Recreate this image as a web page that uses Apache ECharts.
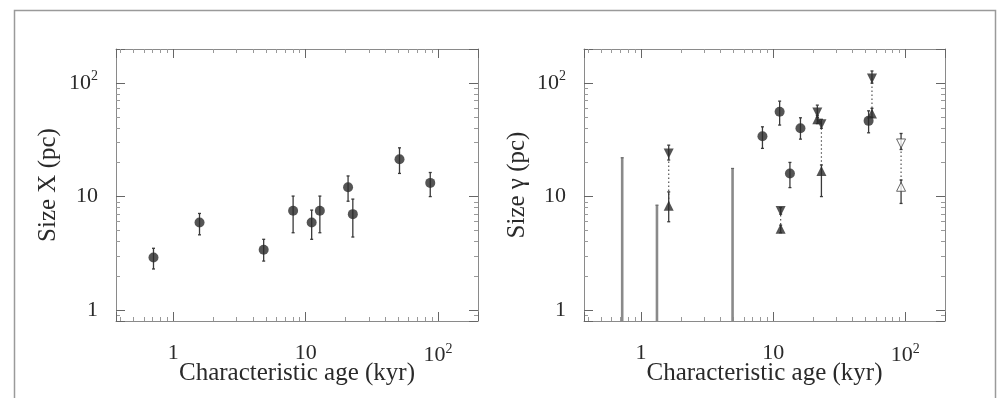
<!DOCTYPE html>
<html>
<head>
<meta charset="utf-8">
<script src="https://cdn.jsdelivr.net/npm/echarts@6/dist/echarts.min.js"></script>
<style>
  body { margin: 0; background: #fff; }
  #chart { width: 1002px; height: 398px; }
</style>
</head>
<body>
<div id="chart"></div>
<script>
// left panel: X-ray size vs characteristic age
const xAge = [0.71, 1.58, 4.82, 8.04, 11.1, 12.8, 20.9, 22.7, 51.1, 87.2];
const xSize = [2.9, 5.9, 3.4, 7.5, 5.9, 7.5, 12.1, 7.0, 21.3, 13.2];
const xLo = [2.3, 4.6, 2.7, 4.8, 4.2, 4.8, 9.1, 4.4, 16.0, 10.0];
const xHi = [3.5, 7.1, 4.2, 10.1, 7.6, 10.1, 15.2, 9.5, 26.9, 16.3];

// right panel: gamma-ray size
// upper limits (bars drawn from the bottom of the axis)
const limAge = [0.72, 1.32, 4.93];
const limSize = [22, 8.4, 17.7];
// filled circles
const circAge = [8.3, 11.2, 13.4, 16.1, 52.8];
const circSize = [34, 56, 16, 40, 46.5];
const circLo = [26.6, 42.7, 12.0, 32.1, 36.5];
const circHi = [41.2, 69.4, 20.0, 49.5, 57];
// down triangles
const downAge = [1.62, 11.4, 21.6, 23.2, 56];
const downSize = [24, 7.45, 55, 43.5, 110];
const downLo = [21, 7.0, 50, 40, 100];
const downHi = [28.4, 8.0, 64, 48, 128];
// up triangles
const upAge = [1.62, 11.4, 21.6, 23.2, 56];
const upSize = [8.3, 5.2, 48, 16.8, 54];
const upLo = [6.0, 4.8, 44, 10.0, 50];
const upHi = [11.0, 5.6, 52, 19.0, 60];
// open triangles
const openDownAge = [93];
const openDownSize = [29.4];
const openDownLo = [26];
const openDownHi = [36];
const openUpAge = [93];
const openUpSize = [12.2];
const openUpLo = [8.7];
const openUpHi = [14];

const xMin = 0.37, xMax = 200, yMin = 0.8, yMax = 200;
const serif = '"Liberation Serif", "DejaVu Serif", serif';
const ink = '#2a2a2a';

const zip = (a, b) => a.map((v, i) => [v, b[i]]);
const zip3 = (a, b, c) => a.map((v, i) => [v, b[i], c[i]]);

function logLabel(v) {
  const e = Math.log10(v);
  if (Math.abs(e - Math.round(e)) > 1e-6) return '';
  const n = Math.round(e);
  if (n === 0) return '1';
  if (n === 1) return '10';
  return '10{sup|' + n + '}';
}

const labelRich = { sup: { fontSize: 14, fontFamily: serif, color: ink, verticalAlign: 'top', padding: [0, 0, 13, 0] } };

function errBar(params, api) {
  const top = api.coord([api.value(0), api.value(2)]);
  const bot = api.coord([api.value(0), api.value(1)]);
  const st = { stroke: '#3a3a3a', lineWidth: 1.3 };
  return { type: 'group', children: [
    { type: 'line', shape: { x1: top[0], y1: top[1], x2: bot[0], y2: bot[1] }, style: st },
    { type: 'line', shape: { x1: top[0] - 1.5, y1: top[1], x2: top[0] + 1.5, y2: top[1] }, style: st },
    { type: 'line', shape: { x1: bot[0] - 1.5, y1: bot[1], x2: bot[0] + 1.5, y2: bot[1] }, style: st }
  ] };
}

function limBar(params, api) {
  const top = api.coord([api.value(0), api.value(1)]);
  const bot = api.coord([api.value(0), yMin]);
  return { type: 'group', children: [
    { type: 'line', shape: { x1: top[0], y1: top[1], x2: bot[0], y2: bot[1] },
      style: { stroke: '#8a8a8a', lineWidth: 2.6 } },
    { type: 'line', shape: { x1: top[0] - 1.5, y1: top[1], x2: top[0] + 1.5, y2: top[1] },
      style: { stroke: '#666', lineWidth: 1.2 } }
  ] };
}

function connector(params, api) {
  const a = api.coord([api.value(0), api.value(1)]);
  const b = api.coord([api.value(0), api.value(2)]);
  return { type: 'line', shape: { x1: a[0], y1: a[1], x2: b[0], y2: b[1] },
    style: { stroke: '#555', lineWidth: 1.2, lineDash: [1.5, 2.5] } };
}

function xAxes(gi) {
  const common = {
    type: 'log', gridIndex: gi, min: xMin, max: xMax,
    axisLine: { show: true, lineStyle: { color: '#8a8a8a', width: 1 } },
    axisTick: { show: true, inside: true, length: 9, lineStyle: { color: '#666' } },
    minorTick: { show: true, splitNumber: 9, length: 4, lineStyle: { color: '#999' } },
    splitLine: { show: false }, minorSplitLine: { show: false }
  };
  return [
    Object.assign({}, common, {
      position: 'bottom',
      name: 'Characteristic age (kyr)', nameLocation: 'middle', nameGap: 40, nameMoveOverlap: false,
      nameTextStyle: { fontFamily: serif, fontSize: 25, color: ink },
      axisLabel: { margin: 21, fontFamily: serif, fontSize: 22, color: ink,
        formatter: logLabel, rich: labelRich, showMinLabel: false, showMaxLabel: false }
    }),
    Object.assign({}, common, { position: 'top', axisLabel: { show: false } })
  ];
}

function yAxes(gi, title, gap) {
  const common = {
    type: 'log', gridIndex: gi, min: yMin, max: yMax,
    axisLine: { show: true, lineStyle: { color: '#8a8a8a', width: 1 } },
    axisTick: { show: true, inside: true, length: 9, lineStyle: { color: '#666' } },
    minorTick: { show: true, splitNumber: 9, length: 4, lineStyle: { color: '#999' } },
    splitLine: { show: false }, minorSplitLine: { show: false }
  };
  return [
    Object.assign({}, common, {
      position: 'left',
      name: title, nameLocation: 'middle', nameGap: gap, nameMoveOverlap: false,
      nameTextStyle: { fontFamily: serif, fontSize: 25, color: ink },
      axisLabel: { margin: 18, fontFamily: serif, fontSize: 22, color: ink,
        formatter: logLabel, rich: labelRich, showMinLabel: false, showMaxLabel: false }
    }),
    Object.assign({}, common, { position: 'right', axisLabel: { show: false } })
  ];
}

const chart = echarts.init(document.getElementById('chart'));
chart.setOption({
  backgroundColor: '#fff',
  animation: false,
  graphic: [{
    type: 'rect', left: 12, top: 8, silent: true,
    shape: { width: 981, height: 410 },
    style: { fill: 'none', stroke: '#9a9a9a', lineWidth: 1.5 }
  }],
  grid: [
    { left: 116, top: 49, width: 362, height: 272, outerBoundsMode: 'none', containLabel: false },
    { left: 584, top: 49, width: 361, height: 272, outerBoundsMode: 'none', containLabel: false }
  ],
  xAxis: xAxes(0).concat(xAxes(1)),
  yAxis: yAxes(0, 'Size X (pc)', 55).concat(yAxes(1, 'Size γ (pc)', 54)),
  series: [
    // left panel
    { type: 'custom', xAxisIndex: 0, yAxisIndex: 0, renderItem: errBar,
      encode: { x: 0, y: [1, 2] }, data: zip3(xAge, xLo, xHi), z: 2 },
    { type: 'scatter', xAxisIndex: 0, yAxisIndex: 0, symbol: 'circle', symbolSize: 10,
      itemStyle: { color: ink }, data: zip(xAge, xSize), z: 3 },

    // right panel
    { type: 'custom', xAxisIndex: 2, yAxisIndex: 2, renderItem: limBar,
      encode: { x: 0, y: 1 }, data: zip(limAge, limSize), z: 2 },
    { type: 'custom', xAxisIndex: 2, yAxisIndex: 2, renderItem: connector,
      encode: { x: 0, y: [1, 2] }, data: zip3(downAge, downSize, upSize), z: 2 },
    { type: 'custom', xAxisIndex: 2, yAxisIndex: 2, renderItem: connector,
      encode: { x: 0, y: [1, 2] }, data: zip3(openDownAge, openDownSize, openUpSize), z: 2 },
    { type: 'custom', xAxisIndex: 2, yAxisIndex: 2, renderItem: errBar,
      encode: { x: 0, y: [1, 2] }, data: zip3(circAge, circLo, circHi), z: 2 },
    { type: 'custom', xAxisIndex: 2, yAxisIndex: 2, renderItem: errBar,
      encode: { x: 0, y: [1, 2] }, data: zip3(downAge, downLo, downHi), z: 2 },
    { type: 'custom', xAxisIndex: 2, yAxisIndex: 2, renderItem: errBar,
      encode: { x: 0, y: [1, 2] }, data: zip3(upAge, upLo, upHi), z: 2 },
    { type: 'custom', xAxisIndex: 2, yAxisIndex: 2, renderItem: errBar,
      encode: { x: 0, y: [1, 2] }, data: zip3(openDownAge, openDownLo, openDownHi), z: 2 },
    { type: 'custom', xAxisIndex: 2, yAxisIndex: 2, renderItem: errBar,
      encode: { x: 0, y: [1, 2] }, data: zip3(openUpAge, openUpLo, openUpHi), z: 2 },
    { type: 'scatter', xAxisIndex: 2, yAxisIndex: 2, symbol: 'circle', symbolSize: 10,
      itemStyle: { color: ink }, data: zip(circAge, circSize), z: 3 },
    { type: 'scatter', xAxisIndex: 2, yAxisIndex: 2, symbol: 'triangle', symbolRotate: 180, symbolSize: 10,
      itemStyle: { color: ink }, data: zip(downAge, downSize), z: 3 },
    { type: 'scatter', xAxisIndex: 2, yAxisIndex: 2, symbol: 'triangle', symbolSize: 10,
      itemStyle: { color: ink }, data: zip(upAge, upSize), z: 3 },
    { type: 'scatter', xAxisIndex: 2, yAxisIndex: 2, symbol: 'triangle', symbolRotate: 180, symbolSize: 9,
      itemStyle: { color: '#fff', borderColor: '#444', borderWidth: 1 }, data: zip(openDownAge, openDownSize), z: 3 },
    { type: 'scatter', xAxisIndex: 2, yAxisIndex: 2, symbol: 'triangle', symbolSize: 9,
      itemStyle: { color: '#fff', borderColor: '#444', borderWidth: 1 }, data: zip(openUpAge, openUpSize), z: 3 }
  ]
});
</script>
</body>
</html>
